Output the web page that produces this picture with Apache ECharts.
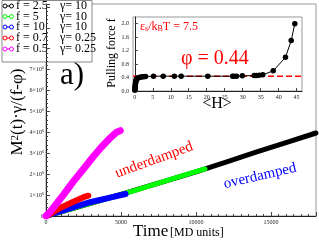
<!DOCTYPE html>
<html><head><meta charset="utf-8">
<script src="https://cdn.jsdelivr.net/npm/echarts@6/dist/echarts.min.js"></script>
<style>html,body{margin:0;padding:0;background:#fff}#c{width:319px;height:240px}</style>
</head><body><div id="c"></div>
<script>
// ---------- data ----------
const SERIES_F = ['f = 2.5', 'f = 5', 'f = 10', 'f = 0.7', 'f = 0.5'];
const SERIES_GAMMA = ['γ= 10', 'γ= 10', 'γ= 10', 'γ= 0.25', 'γ= 0.25'];
const COLORS = ['#000000', '#00ff00', '#0000ff', '#ff0000', '#ff00ff'];

const black_t = [0, 2000, 4000, 6000, 8000, 10000, 12000, 14000, 16000, 18000];
const black_m = [0, 0.4e6, 0.82e6, 1.25e6, 1.68e6, 2.11e6, 2.58e6, 3.05e6, 3.51e6, 3.97e6];
const green_t = [0, 500, 1500, 3000, 4500, 6000, 7500, 9000, 10600];
const green_m = [0, 0.1e6, 0.31e6, 0.62e6, 0.93e6, 1.24e6, 1.57e6, 1.91e6, 2.25e6];
const blue_t = [0, 500, 1000, 2000, 3000, 4200, 5300];
const blue_m = [0, 0.12e6, 0.23e6, 0.46e6, 0.67e6, 0.87e6, 1.05e6];
const red_t = [0, 300, 600, 930, 1300, 1820, 2200, 2500, 2820];
const red_m = [0, 0.1e6, 0.24e6, 0.38e6, 0.5e6, 0.68e6, 0.8e6, 0.9e6, 0.97e6];
const mag_t = [0, 300, 600, 1200, 1800, 2500, 3130, 3700, 4300, 4730, 4950];
const mag_m = [0, 0.22e6, 0.5e6, 1.05e6, 1.63e6, 2.25e6, 2.82e6, 3.3e6, 3.75e6, 4.02e6, 4.08e6];

const X_TICKS = [0, 5000, 10000, 15000];
const Y_TICKS = [0, 1e6, 2e6, 3e6, 4e6, 5e6, 6e6, 7e6];

// inset: <H> vs pulling force f
const inset_H = [0.02, 0.05, 0.08, 0.1, 0.12, 0.15, 0.2, 0.25, 0.3, 0.4, 0.5, 0.7, 0.9, 1.2, 1.6, 2.0, 2.5, 3.0,
                 5.2, 7.9, 11.0, 12.9, 20.3, 27.2, 27.6, 28.3, 29.9, 33.2, 33.8, 34.6, 35.6, 38.5, 41.9, 43.5, 44.5];
const inset_f = [0.02, 0.05, 0.08, 0.11, 0.14, 0.18, 0.22, 0.26, 0.3, 0.33, 0.36, 0.38, 0.39, 0.4, 0.41, 0.42, 0.42, 0.43,
                 0.44, 0.44, 0.44, 0.44, 0.44, 0.44, 0.44, 0.44, 0.45, 0.46, 0.46, 0.47, 0.48, 0.6, 1.0, 1.5, 2.0];
const PHI = 0.44;
const INSET_H_RANGE = [-0.5, 46.5];
const INSET_X_TICKS = [0, 5, 10, 15, 20, 25, 30, 35, 40, 45];
const INSET_Y_TICKS = [0, 0.4, 0.8, 1.2, 1.6, 2.0];

// ---------- chart ----------
const SERIF = "'Liberation Serif','Times New Roman',serif";
const zip = (a, b) => a.map((v, i) => [v, b[i]]);
const mainData = [zip(black_t, black_m), zip(green_t, green_m), zip(blue_t, blue_m), zip(red_t, red_m), zip(mag_t, mag_m)];
const widths = [5, 5, 6, 6, 7];

const chart = echarts.init(document.getElementById('c'), null, {renderer: 'canvas'});

const mainSeries = mainData.map((d, i) => ({
  name: SERIES_F[i] + ' ' + SERIES_GAMMA[i],
  type: 'line', xAxisIndex: 0, yAxisIndex: 0, data: d,
  showSymbol: false, symbol: 'none', silent: true,
  lineStyle: {color: COLORS[i], width: widths[i], cap: 'round', join: 'round'},
  z: 2 + i
}));

const legendRows = [6, 16.5, 27, 38, 49];
const legendEls = [{type: 'rect', shape: {x: 2, y: 0.5, width: 90, height: 61.5},
  style: {fill: '#fff', stroke: '#888', lineWidth: 1}}];
SERIES_F.forEach((f, i) => {
  const y = legendRows[i];
  legendEls.push({type: 'line', shape: {x1: 5, y1: y, x2: 11.5, y2: y}, style: {stroke: COLORS[i], lineWidth: 1}});
  legendEls.push({type: 'circle', shape: {cx: 5, cy: y, r: 2}, style: {stroke: COLORS[i], fill: '#fff', lineWidth: 1}});
  legendEls.push({type: 'circle', shape: {cx: 11.5, cy: y, r: 2}, style: {stroke: COLORS[i], fill: '#fff', lineWidth: 1}});
  legendEls.push({type: 'text', x: 16, y: y, style: {text: f, fontSize: 12, fontFamily: SERIF, fill: '#000', verticalAlign: 'middle'}});
  legendEls.push({type: 'text', x: 60, y: y, style: {text: SERIES_GAMMA[i], fontSize: 12, fontFamily: SERIF, fill: '#000', verticalAlign: 'middle'}});
});

const option = {
  animation: false,
  backgroundColor: '#fff',
  grid: [
    {left: 46, right: 3, top: 4, bottom: 24, show: true, borderColor: '#999', borderWidth: 1},
    {left: 133, right: 17, top: 17, bottom: 149, show: true, borderColor: '#999', borderWidth: 1}
  ],
  xAxis: [
    {gridIndex: 0, type: 'value', min: 0, max: 18000, interval: 5000,
     axisLine: {lineStyle: {color: '#222', width: 1}},
     axisTick: {inside: true, length: 4, lineStyle: {color: '#444'}},
     minorTick: {show: true, splitNumber: 10, length: 2, lineStyle: {color: '#444'}},
     splitLine: {show: false},
     axisLabel: {fontSize: 6, fontFamily: SERIF, color: '#222', margin: 3, showMaxLabel: false,
       formatter: v => X_TICKS.includes(v) ? String(v) : ''}},
    {gridIndex: 1, type: 'value', min: INSET_H_RANGE[0], max: INSET_H_RANGE[1],
     axisLine: {lineStyle: {color: '#222', width: 1}},
     axisTick: {inside: true, length: 3, customValues: INSET_X_TICKS, lineStyle: {color: '#444'}},
     splitLine: {show: false},
     axisLabel: {fontSize: 6, fontFamily: SERIF, color: '#222', margin: 3, customValues: INSET_X_TICKS}}
  ],
  yAxis: [
    {gridIndex: 0, type: 'value', min: 0, max: 10.14e6, interval: 1e6,
     axisLine: {lineStyle: {color: '#222', width: 1}},
     axisTick: {inside: true, length: 4, lineStyle: {color: '#444'}},
     minorTick: {show: true, splitNumber: 5, length: 2, lineStyle: {color: '#444'}},
     splitLine: {show: false},
     axisLabel: {fontSize: 6, fontFamily: SERIF, color: '#222', margin: 2, showMaxLabel: false,
       formatter: v => Y_TICKS.includes(v) ? (v === 0 ? '0' : (v / 1e6) + '×10{s|6}') : '',
       rich: {s: {fontSize: 4, verticalAlign: 'top', fontFamily: SERIF, color: '#222', padding: [0, 0, 3, 0]}}}},
    {gridIndex: 1, type: 'value', min: 0, max: 2.2,
     axisLine: {lineStyle: {color: '#222', width: 1}},
     axisTick: {inside: true, length: 3, customValues: INSET_Y_TICKS, lineStyle: {color: '#444'}},
     splitLine: {show: false},
     axisLabel: {fontSize: 6, fontFamily: SERIF, color: '#222', margin: 4, customValues: INSET_Y_TICKS,
       formatter: v => v.toFixed(1)}}
  ],
  series: mainSeries.concat([
    {type: 'line', xAxisIndex: 1, yAxisIndex: 1, data: INSET_H_RANGE.map(h => [h, PHI]),
     showSymbol: false, symbol: 'none', silent: true,
     lineStyle: {color: '#ff0000', width: 1.5, type: [6, 3]}, z: 10},
    {type: 'line', xAxisIndex: 1, yAxisIndex: 1, data: zip(inset_H, inset_f),
     symbol: 'circle', symbolSize: 5.5, showSymbol: true, silent: true, clip: false,
     itemStyle: {color: '#000'}, lineStyle: {color: '#000', width: 1}, z: 11}
  ]),
  graphic: [
    {type: 'group', z: 100, children: legendEls},
    {type: 'text', x: 18, y: 112, rotation: Math.PI / 2, z: 50,
     style: {text: 'M{s|2}(t)·γ/(f-φ)', fontSize: 17, fontFamily: SERIF, fill: '#000', align: 'center', verticalAlign: 'middle',
       rich: {s: {fontSize: 11, fontFamily: SERIF, fill: '#000', verticalAlign: 'top', padding: [0, 0, 6, 0]}}}},
    {type: 'text', x: 133, y: 231.5, z: 50, style: {text: 'Time', fontSize: 17, fontFamily: SERIF, fill: '#000', verticalAlign: 'middle'}},
    {type: 'text', x: 170, y: 233, z: 50, style: {text: '[MD units]', fontSize: 12, fontFamily: SERIF, fill: '#000', verticalAlign: 'middle'}},
    {type: 'text', x: 72, y: 76, z: 50, style: {text: 'a)', fontSize: 31, fontFamily: SERIF, fill: '#000', align: 'center', verticalAlign: 'middle'}},
    {type: 'text', x: 154, y: 160, rotation: 20 * Math.PI / 180, z: 50,
     style: {text: 'underdamped', fontSize: 15, fontFamily: SERIF, fill: '#ff0000', align: 'center', verticalAlign: 'middle'}},
    {type: 'text', x: 260, y: 176, rotation: 13 * Math.PI / 180, z: 50,
     style: {text: 'overdamped', fontSize: 15, fontFamily: SERIF, fill: '#0000ff', align: 'center', verticalAlign: 'middle'}},
    {type: 'text', x: 112, y: 53, rotation: Math.PI / 2, z: 50,
     style: {text: 'Pulling force f', fontSize: 12, fontFamily: SERIF, fill: '#000', align: 'center', verticalAlign: 'middle'}},
    {type: 'text', x: 217, y: 104, z: 50,
     style: {text: '<H>', fontSize: 16, fontFamily: SERIF, fill: '#000', align: 'center', verticalAlign: 'middle'}},
    {type: 'text', x: 181, y: 59, z: 50,
     style: {text: 'φ = 0.44', fontSize: 20, fontFamily: SERIF, fill: '#ff0000', verticalAlign: 'middle'}},
    {type: 'text', x: 140, y: 27, z: 50,
     style: {text: 'ε{b|s}/k{b|B}T = 7.5', fontSize: 12, fontFamily: SERIF, fill: '#ff0000', verticalAlign: 'middle',
       rich: {b: {fontSize: 8, fontFamily: SERIF, fill: '#ff0000', verticalAlign: 'bottom', padding: [4, 0, 0, 0]}}}}
  ]
};
chart.setOption(option);
</script></body></html>
